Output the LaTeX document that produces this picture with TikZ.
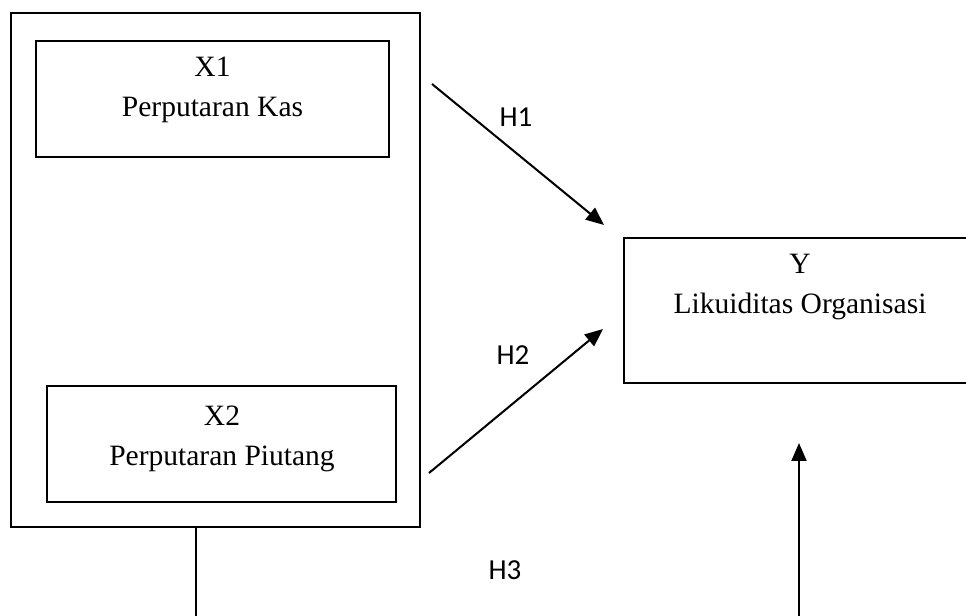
\documentclass[tikz,border=0pt]{standalone}
\usepackage{fontspec}
\setmainfont{Liberation Serif}
\newfontfamily\hypfont{Carlito}
\usetikzlibrary{arrows.meta}

\begin{document}
\begin{tikzpicture}[
  varbox/.style={draw,line width=0.85pt,rectangle,inner sep=0pt},
  vartext/.style={align=center,font=\fontsize{16.8}{22.7}\selectfont},
  hyplabel/.style={font=\hypfont\fontsize{16.5}{19}\selectfont},
  hyparrow/.style={line width=1.15pt,-{Triangle[length=0.36cm,width=0.3cm]}}
]
\useasboundingbox (0,0) rectangle (19.32,12.3);
\clip (0,0) rectangle (19.32,12.3);

% Boxes
\node[varbox,minimum width=8.18cm,minimum height=10.28cm] (outer) at (4.31,6.90) {};
\node[varbox,minimum width=7.06cm,minimum height=2.32cm] (x1) at (4.25,10.32) {};
\node[varbox,minimum width=6.98cm,minimum height=2.32cm] (x2) at (4.43,3.42) {};
\node[varbox,minimum width=7.04cm,minimum height=2.90cm] (y) at (16.00,6.09) {};

% Variable names
\node[vartext] (x1text) at (4.25,10.50) {X1\\Perputaran Kas};
\node[vartext] (x2text) at (4.44,3.52) {X2\\Perputaran Piutang};
\node[vartext] (ytext) at (16.00,6.56) {Y\\Likuiditas Organisasi};

% Arrow ends
\coordinate (h1start) at (8.64,10.62);
\coordinate (h1end) at (12.08,7.80);
\coordinate (h2start) at (8.58,2.84);
\coordinate (h2end) at (12.06,5.72);
\coordinate (linkend) at (3.92,-0.5);
\coordinate (h3start) at (15.98,-0.5);
\coordinate (h3end) at (15.98,3.44);

% Hypotheses
\draw[hyparrow] (h1start) -- (h1end);
\draw[hyparrow] (h2start) -- (h2end);
\draw[line width=1pt] (outer.south -| linkend) -- (linkend);
\draw[hyparrow] (h3start) -- (h3end);

\node[hyplabel] (h1) at (10.32,9.96) {H1};
\node[hyplabel] (h2) at (10.26,5.20) {H2};
\node[hyplabel] (h3) at (10.10,0.90) {H3};

\end{tikzpicture}
\end{document}
